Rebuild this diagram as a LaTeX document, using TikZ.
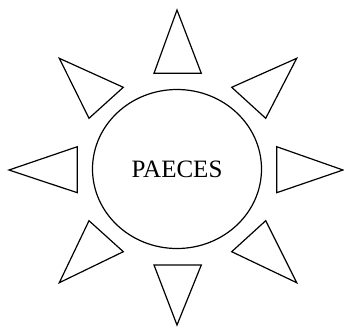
\documentclass[tikz,border=0pt]{standalone}
\usepackage{fontspec}
\setmainfont{Liberation Serif}
\usetikzlibrary{shapes.geometric}
\begin{document}
\begin{tikzpicture}[x=1pt,y=-1pt,line width=1.2pt,
  ray/.style={draw=black,line join=miter}]
\useasboundingbox (0,0) rectangle (344,327);
\node[draw,ellipse,minimum width=169pt,minimum height=159pt,inner sep=0pt,line width=1.2pt,
  font=\fontsize{25}{28}\selectfont] (c) at (177,169) {PAECES};
% top
\draw[ray] (177,10) -- (154,73.3) -- (201.3,73.3) -- cycle;
% bottom
\draw[ray] (154,265) -- (201.3,265) -- (177,325) -- cycle;
% left
\draw[ray] (9,170) -- (77.3,146.7) -- (77.3,192.7) -- cycle;
% right
\draw[ray] (276.7,146.7) -- (343,170) -- (276.7,192.7) -- cycle;
% upper-left
\draw[ray] (59.3,58.3) -- (123.3,87.3) -- (89,118.3) -- cycle;
% upper-right
\draw[ray] (296.7,58.3) -- (231.7,87.3) -- (265.7,118.3) -- cycle;
% lower-left
\draw[ray] (89,220.7) -- (123.3,251.7) -- (59.3,282.7) -- cycle;
% lower-right
\draw[ray] (265.7,220.7) -- (231.7,251.7) -- (296.7,282.7) -- cycle;
\end{tikzpicture}
\end{document}
